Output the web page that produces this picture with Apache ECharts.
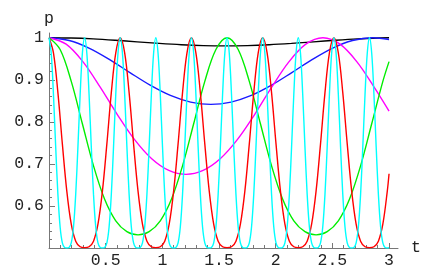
<!DOCTYPE html>
<html><head><meta charset="utf-8">
<script src="https://cdn.jsdelivr.net/npm/echarts@6/dist/echarts.min.js"></script>
<style>html,body{margin:0;padding:0;background:#fff}#c{width:437px;height:270px}</style>
</head><body><div id="c"></div>
<script>
// Tick labels
const xTicks = [0.5, 1, 1.5, 2, 2.5, 3];
const yTicks = [0.6, 0.7, 0.8, 0.9, 1];
const tEnd = 3;

// Sample spacing (t units) of each series; last value of each list is at t = tEnd
const blackStep = 0.1944055;
const blueStep = 0.1784996;
const magentaStep = 0.1510381;
const greenStep = 0.0981748;
const redStep = 0.0392699;
const cyanStep = 0.0196350;

// p values
const blackP = [1, 0.99925, 0.99712, 0.99394, 0.9902, 0.98647, 0.98332, 0.98123, 0.98049, 0.98123, 0.98332, 0.98647, 0.9902, 0.99394, 0.99712, 0.99925, 0.99976];
const blueP = [1, 0.9934, 0.9749, 0.9479, 0.917, 0.8872, 0.8628, 0.847, 0.8415, 0.847, 0.8628, 0.8872, 0.917, 0.9479, 0.9749, 0.9934, 1, 0.9957];
const magentaP = [1, 0.9846, 0.942, 0.8819, 0.8167, 0.7576, 0.7122, 0.6844, 0.6751, 0.6844, 0.7122, 0.7576, 0.8167, 0.8819, 0.942, 0.9846, 1, 0.9846, 0.942, 0.8819, 0.8255];
const greenP = [1, 0.9719, 0.8962, 0.7953, 0.6953, 0.6159, 0.5647, 0.5388, 0.5313, 0.5388, 0.5647, 0.6159, 0.6953, 0.7953, 0.8962, 0.9719,
  1, 0.9719, 0.8962, 0.7953, 0.6953, 0.6159, 0.5647, 0.5388, 0.5313, 0.5388, 0.5647, 0.6159, 0.6953, 0.7953, 0.8962, 0.9432];
const redP = [
  1, 0.9641, 0.8693, 0.7476, 0.6352, 0.5566, 0.5163, 0.5029, 0.5008, 0.5029, 0.5163, 0.5566, 0.6352, 0.7476, 0.8693, 0.9641,
  1, 0.9641, 0.8693, 0.7476, 0.6352, 0.5566, 0.5163, 0.5029, 0.5008, 0.5029, 0.5163, 0.5566, 0.6352, 0.7476, 0.8693, 0.9641,
  1, 0.9641, 0.8693, 0.7476, 0.6352, 0.5566, 0.5163, 0.5029, 0.5008, 0.5029, 0.5163, 0.5566, 0.6352, 0.7476, 0.8693, 0.9641,
  1, 0.9641, 0.8693, 0.7476, 0.6352, 0.5566, 0.5163, 0.5029, 0.5008, 0.5029, 0.5163, 0.5566, 0.6352, 0.7476, 0.8693, 0.9641,
  1, 0.9641, 0.8693, 0.7476, 0.6352, 0.5566, 0.5163, 0.5029, 0.5008, 0.5029, 0.5163, 0.5566, 0.6352, 0.6764];
const cyanP = [
  1, 0.963, 0.8655, 0.7411, 0.6275, 0.5498, 0.512, 0.5011, 0.5001, 0.5011, 0.512, 0.5498, 0.6275, 0.7411, 0.8655, 0.963,
  1, 0.963, 0.8655, 0.7411, 0.6275, 0.5498, 0.512, 0.5011, 0.5001, 0.5011, 0.512, 0.5498, 0.6275, 0.7411, 0.8655, 0.963,
  1, 0.963, 0.8655, 0.7411, 0.6275, 0.5498, 0.512, 0.5011, 0.5001, 0.5011, 0.512, 0.5498, 0.6275, 0.7411, 0.8655, 0.963,
  1, 0.963, 0.8655, 0.7411, 0.6275, 0.5498, 0.512, 0.5011, 0.5001, 0.5011, 0.512, 0.5498, 0.6275, 0.7411, 0.8655, 0.963,
  1, 0.963, 0.8655, 0.7411, 0.6275, 0.5498, 0.512, 0.5011, 0.5001, 0.5011, 0.512, 0.5498, 0.6275, 0.7411, 0.8655, 0.963,
  1, 0.963, 0.8655, 0.7411, 0.6275, 0.5498, 0.512, 0.5011, 0.5001, 0.5011, 0.512, 0.5498, 0.6275, 0.7411, 0.8655, 0.963,
  1, 0.963, 0.8655, 0.7411, 0.6275, 0.5498, 0.512, 0.5011, 0.5001, 0.5011, 0.512, 0.5498, 0.6275, 0.7411, 0.8655, 0.963,
  1, 0.963, 0.8655, 0.7411, 0.6275, 0.5498, 0.512, 0.5011, 0.5001, 0.5011, 0.512, 0.5498, 0.6275, 0.7411, 0.8655, 0.963,
  1, 0.963, 0.8655, 0.7411, 0.6275, 0.5498, 0.512, 0.5011, 0.5001, 0.5011, 0.512, 0.5498, 0.6275, 0.7411, 0.8655, 0.963,
  1, 0.963, 0.8655, 0.7411, 0.6275, 0.5498, 0.512, 0.5011, 0.5001, 0.5006];

function pairs(step, vals) {
  return vals.map((v, i) => [i === vals.length - 1 ? tEnd : i * step, v]);
}

const font = 'Liberation Mono, Courier New, monospace';
const axisColor = '#777';
const textColor = '#222';

function mk(name, color, step, vals) {
  return {
    name, type: 'line', data: pairs(step, vals), showSymbol: false, smooth: 0.35,
    lineStyle: { color, width: 1.4 }, itemStyle: { color }, clip: true, silent: true
  };
}

const chart = echarts.init(document.getElementById('c'), null, { renderer: 'canvas' });
chart.setOption({
  animation: false,
  backgroundColor: '#fff',
  grid: { left: 49, right: 39, top: 33, bottom: 22, containLabel: false, outerBoundsMode: 'none' },
  xAxis: {
    type: 'value', min: 0, max: 3.079, interval: 0.5,
    name: 't', nameLocation: 'end', nameGap: 13,
    nameTextStyle: { fontFamily: font, fontSize: 16.5, color: textColor, verticalAlign: 'middle' },
    axisLine: { onZero: false, lineStyle: { color: axisColor, width: 1 } },
    axisTick: { show: true, inside: true, length: 5, customValues: xTicks, lineStyle: { color: axisColor } },
    minorTick: { show: true, splitNumber: 5, length: 3, lineStyle: { color: axisColor } },
    axisLabel: { customValues: xTicks, fontFamily: font, fontSize: 16.5, color: textColor, margin: 4,
      formatter: v => String(v) },
    splitLine: { show: false }, minorSplitLine: { show: false }
  },
  yAxis: {
    type: 'value', min: 0.5, max: 1.0112, interval: 0.1,
    name: 'p', nameLocation: 'end', nameGap: 6,
    nameTextStyle: { fontFamily: font, fontSize: 16.5, color: textColor },
    axisLine: { onZero: false, lineStyle: { color: axisColor, width: 1 } },
    axisTick: { show: true, inside: true, length: 6, customValues: yTicks, lineStyle: { color: axisColor } },
    minorTick: { show: true, splitNumber: 5, length: 3, lineStyle: { color: axisColor } },
    axisLabel: { customValues: yTicks, fontFamily: font, fontSize: 16.5, color: textColor, margin: 5,
      formatter: v => String(v) },
    splitLine: { show: false }, minorSplitLine: { show: false }
  },
  series: [
    mk('black', '#000000', blackStep, blackP),
    mk('blue', '#1a1aff', blueStep, blueP),
    mk('magenta', '#ff00ff', magentaStep, magentaP),
    mk('green', '#00ee00', greenStep, greenP),
    mk('red', '#ff0000', redStep, redP),
    mk('cyan', '#00ffff', cyanStep, cyanP)
  ]
});
</script>
</body></html>
